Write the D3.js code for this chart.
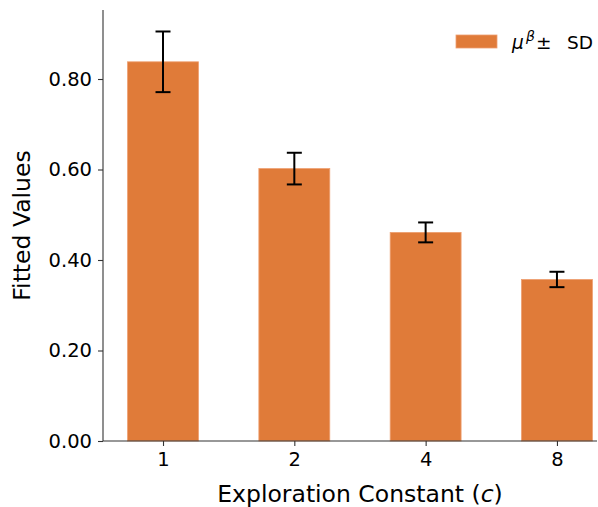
<!DOCTYPE html>
<html>
<head>
<meta charset="utf-8">
<script src="https://cdn.jsdelivr.net/npm/d3@7"></script>
<style>
  body { margin: 0; background: #fff; }
  text { font-family: "DejaVu Sans", sans-serif; fill: #000; }
</style>
</head>
<body>
<svg id="chart" width="598" height="507"></svg>
<script>
const categories = ["1", "2", "4", "8"];
const means = [0.838, 0.602, 0.461, 0.357];
const sds = [0.067, 0.035, 0.022, 0.017];
const yTicks = [0, 0.2, 0.4, 0.6, 0.8];

const margin = { top: 10, right: 1, bottom: 66, left: 103 };
const width = 598, height = 507;

const svg = d3.select('#chart');

const x = d3.scaleLinear()
  .domain([-0.457, 3.305])
  .range([margin.left, width - margin.right]);

const y = d3.scaleLinear()
  .domain([0, 0.9525])
  .range([height - margin.bottom, margin.top]);

const barW = x(0.54) - x(0);
const color = '#e07b39';

// bars
svg.append('g')
  .selectAll('rect')
  .data(means)
  .enter()
  .append('rect')
    .attr('x', (d, i) => x(i) - barW / 2)
    .attr('y', d => y(d))
    .attr('width', barW)
    .attr('height', d => y(0) - y(d))
    .attr('fill', color)
    .attr('stroke', '#ee9f70')
    .attr('stroke-width', 0.8)

// error bars
const err = svg.append('g')
  .attr('stroke', '#000')
  .attr('stroke-width', 2)

means.forEach((m, i) => {
  const cx = x(i)
  err.append('line')
    .attr('x1', cx).attr('x2', cx)
    .attr('y1', y(m - sds[i])).attr('y2', y(m + sds[i]))
  ;[m - sds[i], m + sds[i]].forEach(v => {
    err.append('line')
      .attr('x1', cx - 7.5).attr('x2', cx + 7.5)
      .attr('y1', y(v)).attr('y2', y(v))
  })
})

// axes
const yAxis = d3.axisLeft(y)
  .tickValues(yTicks)
  .tickFormat(d3.format('.2f'))
  .tickSize(5)
  .tickPadding(6)

svg.append('g')
  .attr('transform', 'translate(' + margin.left + ',0)')
  .call(yAxis)
  .call(g => g.select('.domain').attr('d', 'M0,' + y.range()[1] + 'V' + y.range()[0]))
  .call(g => g.selectAll('text').style('font-size', '19.5px'))
  .call(g => g.selectAll('line, path').attr('stroke', '#333').attr('stroke-width', 1.1))

const xAxis = d3.axisBottom(x)
  .tickValues(d3.range(categories.length))
  .tickFormat(i => categories[i])
  .tickSize(5)
  .tickPadding(6)

svg.append('g')
  .attr('transform', 'translate(0,' + y(0) + ')')
  .call(xAxis)
  .call(g => g.select('.domain').attr('d', 'M' + x.range()[0] + ',0H' + x.range()[1]))
  .call(g => g.selectAll('text').style('font-size', '19.5px'))
  .call(g => g.selectAll('line, path').attr('stroke', '#333').attr('stroke-width', 1.1))

// axis labels
svg.append('text')
  .attr('transform', 'translate(30,' + ((y.range()[0] + y.range()[1]) / 2) + ') rotate(-90)')
  .attr('text-anchor', 'middle')
  .style('font-size', '23.5px')
  .text('Fitted Values')

const xl = svg.append('text')
  .attr('x', (x.range()[0] + x.range()[1]) / 2 + 10)
  .attr('y', 502)
  .attr('text-anchor', 'middle')
  .style('font-size', '23.5px')
xl.append('tspan').text('Exploration Constant (')
xl.append('tspan').style('font-style', 'italic').text('c')
xl.append('tspan').text(')')

// legend
const legend = svg.append('g').attr('transform', 'translate(456,35)')
legend.append('rect')
  .attr('width', 41).attr('height', 13)
  .attr('fill', color)
  .attr('stroke', '#ee9f70')
  .attr('stroke-width', 0.8)
const lt = legend.append('text')
  .attr('y', 14)
  .style('font-size', '18.5px')
lt.append('tspan').attr('x', 56).style('font-style', 'italic').text('μ')
lt.append('tspan').attr('x', 70).attr('dy', -8).style('font-size', '14px').style('font-style', 'italic').text('β')
lt.append('tspan').attr('x', 80).attr('dy', 8).text('±')
lt.append('tspan').attr('x', 111).text('SD')
</script>
</body>
</html>
